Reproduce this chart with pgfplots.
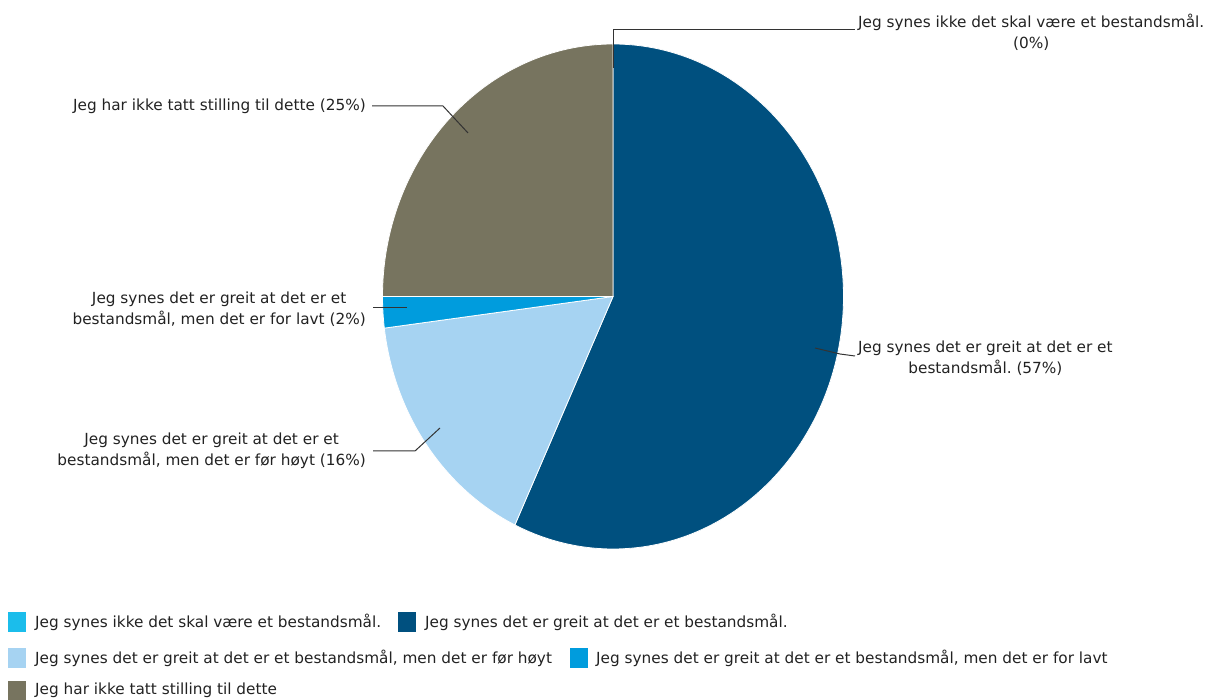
\documentclass[border=0pt]{standalone}
\usepackage{pgfplots}
\pgfplotsset{compat=1.18}
\usepackage{pgfplotstable}
\usepackage{fontspec}
\setmainfont{DejaVu Sans}
\frenchspacing
\definecolor{c0}{HTML}{1BBDEB}
\definecolor{c1}{HTML}{00507F}
\definecolor{c2}{HTML}{A6D3F2}
\definecolor{c3}{HTML}{009CDD}
\definecolor{c4}{HTML}{77745F}
\definecolor{txt}{HTML}{222222}
\definecolor{lead}{HTML}{333333}
\pgfplotstableread{
value
0
57
16
2
25
}\piedata
\begin{document}
\begin{tikzpicture}[font=\fontsize{15.3}{21}\selectfont]
\begin{axis}[width=1210pt,height=700pt,scale only axis,hide axis,
  xmin=0,xmax=1210,ymin=0,ymax=700,clip=false]
\path (axis cs:0,0) rectangle (axis cs:1210,700);
\def\cum{0}
\pgfplotsforeachungrouped \i in {0,...,4}{%
  \pgfplotstablegetelem{\i}{value}\of\piedata
  \let\v=\pgfplotsretval
  \pgfmathsetmacro\s{90-3.6*\cum}%
  \pgfmathsetmacro\e{\s-3.6*\v}%
  \pgfmathsetmacro\sx{613+230.5*cos(\s)}%
  \pgfmathsetmacro\sy{403.5+252.5*sin(\s)}%
  \pgfmathsetmacro\cum{\cum+\v}%
  \edef\cmd{\noexpand\fill[c\i, draw=white, line width=0.8pt] (axis cs:613,403.5) -- (axis cs:\sx,\sy) arc[start angle=\s, end angle=\e, x radius=230.5pt, y radius=252.5pt] -- cycle;}%
  \cmd
}
% leader lines
\draw[lead, line width=1pt] (axis cs:613,632) -- (axis cs:613,670) -- (axis cs:855,670);
\draw[lead, line width=1pt] (axis cs:372,594) -- (axis cs:443,594) -- (axis cs:468,567);
\draw[lead, line width=1pt] (axis cs:373,392) -- (axis cs:407,392);
\draw[lead, line width=1pt] (axis cs:373,249) -- (axis cs:415,249) -- (axis cs:440,272);
\draw[lead, line width=1pt] (axis cs:815,352) -- (axis cs:840,346) -- (axis cs:855,344);
% labels
\node[txt, anchor=west, align=center, inner sep=1pt] at (axis cs:857,668) {Jeg synes ikke det skal være et bestandsmål.\\(0\%)};
\node[txt, anchor=east, inner sep=1pt] at (axis cs:367,594) {Jeg har ikke tatt stilling til dette (25\%)};
\node[txt, anchor=east, align=center, inner sep=1pt] at (axis cs:367,391) {Jeg synes det er greit at det er et\\bestandsmål, men det er for lavt (2\%)};
\node[txt, anchor=east, align=center, inner sep=1pt] at (axis cs:367,249) {Jeg synes det er greit at det er et\\bestandsmål, men det er før høyt (16\%)};
\node[txt, anchor=west, align=center, inner sep=1pt] at (axis cs:857,342) {Jeg synes det er greit at det er et\\bestandsmål. (57\%)};
% legend
\fill[c0] (axis cs:8,68) rectangle (axis cs:26,88);
\node[txt, anchor=west, inner sep=1pt] at (axis cs:34,78) {Jeg synes ikke det skal være et bestandsmål.};
\fill[c1] (axis cs:398,68) rectangle (axis cs:416,88);
\node[txt, anchor=west, inner sep=1pt] at (axis cs:424,78) {Jeg synes det er greit at det er et bestandsmål.};
\fill[c2] (axis cs:8,32) rectangle (axis cs:26,52);
\node[txt, anchor=west, inner sep=1pt] at (axis cs:34,42) {Jeg synes det er greit at det er et bestandsmål, men det er før høyt};
\fill[c3] (axis cs:570,32) rectangle (axis cs:588,52);
\node[txt, anchor=west, inner sep=1pt] at (axis cs:595,42) {Jeg synes det er greit at det er et bestandsmål, men det er for lavt};
\fill[c4] (axis cs:8,0) rectangle (axis cs:26,19);
\node[txt, anchor=west, inner sep=1pt] at (axis cs:34,10) {Jeg har ikke tatt stilling til dette};
\end{axis}
\end{tikzpicture}
\end{document}
